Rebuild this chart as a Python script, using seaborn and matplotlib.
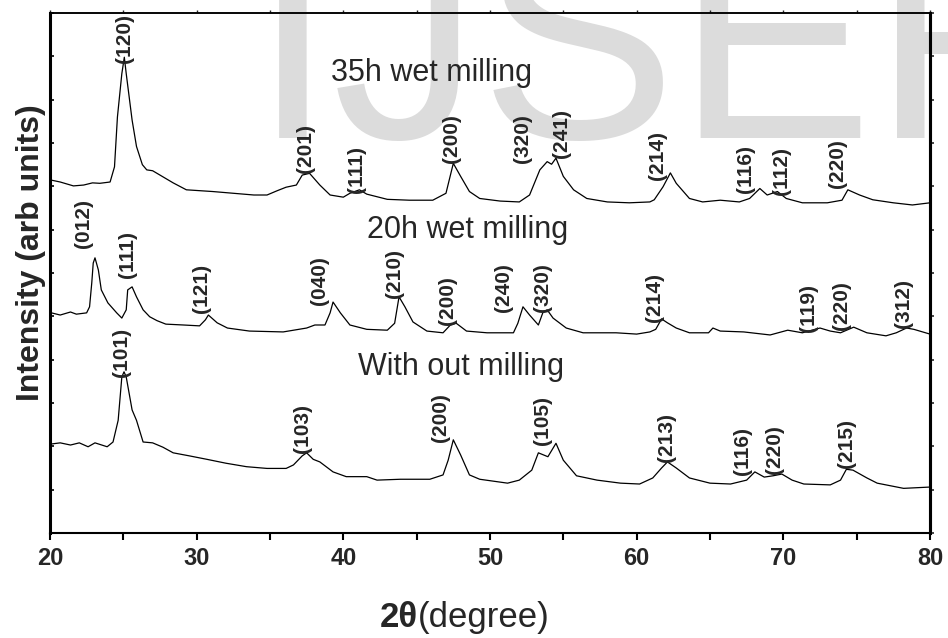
import pandas as pd
import seaborn as sns
import matplotlib.pyplot as plt

# XRD patterns, intensity in arbitrary units (curves stacked by offset)
top_x = [20.0, 20.7, 21.6, 22.3, 22.9, 23.4, 24.1, 24.4, 24.6, 24.9,
         25.07, 25.2, 25.6, 25.9, 26.3, 26.6, 27.0, 27.7, 28.4, 29.3,
         30.2, 31.1, 32.5, 33.9, 34.8, 35.5, 36.1, 36.8, 37.2, 37.7,
         38.4, 39.1, 40.0, 40.45, 41.1, 41.6, 43.0, 44.5, 46.1, 47.0,
         47.5, 48.0, 48.6, 49.3, 50.7, 52.0, 52.7, 53.4, 53.9, 54.2,
         54.5, 55.0, 55.7, 56.6, 58.0, 59.5, 60.9, 61.2, 61.8, 62.3,
         62.7, 63.6, 64.5, 65.7, 67.0, 67.7, 68.4, 68.9, 69.6, 70.2,
         71.3, 73.0, 74.0, 74.4, 75.2, 76.1, 77.5, 78.8, 80.0]
top_y = [8.15, 8.10, 8.01, 8.03, 8.08, 8.07, 8.10, 8.45, 9.6, 10.6,
         10.98, 10.6, 9.53, 8.92, 8.5, 8.38, 8.36, 8.22, 8.08, 7.92,
         7.90, 7.88, 7.84, 7.80, 7.80, 7.90, 7.98, 8.03, 8.26, 8.30,
         8.03, 7.80, 7.75, 7.84, 7.92, 7.82, 7.70, 7.68, 7.68, 7.84,
         8.53, 8.23, 7.88, 7.72, 7.66, 7.64, 7.80, 8.38, 8.57, 8.51,
         8.65, 8.23, 7.92, 7.72, 7.64, 7.62, 7.64, 7.69, 7.99, 8.31,
         8.07, 7.72, 7.64, 7.68, 7.64, 7.72, 7.95, 7.80, 7.88, 7.72,
         7.62, 7.62, 7.68, 7.92, 7.80, 7.69, 7.62, 7.57, 7.62]

mid_x = [20.1, 20.7, 21.4, 21.8, 22.5, 22.7, 22.85, 22.95, 23.07, 23.3,
         23.5, 23.95, 24.55, 24.9, 25.2, 25.3, 25.6, 25.9, 26.35, 26.8,
         27.3, 27.9, 29.1, 30.2, 30.6, 30.8, 31.4, 32.1, 33.6, 35.9,
         37.5, 38.06, 38.75, 39.1, 39.3, 39.8, 40.45, 41.6, 43.0, 43.5,
         43.8, 44.2, 44.75, 45.7, 46.8, 47.3, 47.7, 48.4, 49.8, 51.6,
         51.9, 52.25, 52.7, 53.3, 53.6, 53.9, 54.3, 55.2, 56.35, 58.6,
         60.0, 60.9, 61.3, 61.7, 62.1, 62.7, 63.6, 64.9, 65.2, 65.7,
         67.3, 69.1, 70.3, 71.3, 72.5, 73.2, 73.9, 74.8, 75.7, 77.0,
         77.7, 78.4, 78.9, 80.0]
mid_y = [5.08, 5.03, 5.10, 5.05, 5.08, 5.22, 5.77, 6.23, 6.35, 6.07,
         5.61, 5.31, 5.08, 4.96, 5.15, 5.61, 5.68, 5.45, 5.15, 4.99,
         4.90, 4.82, 4.80, 4.78, 4.92, 5.03, 4.85, 4.73, 4.66, 4.64,
         4.73, 4.80, 4.80, 5.08, 5.33, 5.08, 4.80, 4.70, 4.68, 4.84,
         5.45, 5.22, 4.87, 4.66, 4.62, 4.80, 4.84, 4.66, 4.62, 4.62,
         4.84, 5.22, 5.03, 4.80, 5.08, 5.15, 4.96, 4.73, 4.62, 4.62,
         4.59, 4.64, 4.70, 4.94, 4.85, 4.73, 4.62, 4.62, 4.73, 4.66,
         4.64, 4.57, 4.68, 4.62, 4.73, 4.66, 4.62, 4.75, 4.62, 4.55,
         4.62, 4.73, 4.70, 4.59]

low_x = [20.0, 20.7, 21.4, 22.0, 22.6, 23.07, 23.9, 24.3, 24.65, 24.9,
         25.05, 25.2, 25.6, 25.9, 26.35, 27.0, 27.7, 28.4, 29.5, 30.7,
         32.0, 33.4, 34.8, 36.1, 36.6, 37.2, 37.5, 37.95, 38.4, 39.3,
         40.2, 41.6, 42.3, 43.9, 45.9, 46.8, 47.15, 47.5, 48.0, 48.6,
         49.3, 51.2, 52.0, 52.85, 53.3, 53.95, 54.5, 55.0, 55.9, 57.3,
         58.9, 60.2, 61.1, 61.7, 62.1, 62.7, 63.6, 65.0, 66.4, 67.5,
         68.06, 68.7, 69.3, 69.9, 70.6, 71.4, 73.2, 73.9, 74.3, 74.75,
         75.7, 76.4, 78.2, 80.0]
low_y = [2.05, 2.08, 2.03, 2.08, 1.99, 2.08, 1.99, 2.10, 2.6, 3.6,
         3.72, 3.6, 2.84, 2.6, 2.10, 2.08, 1.98, 1.85, 1.78, 1.70,
         1.61, 1.53, 1.49, 1.49, 1.57, 1.78, 1.85, 1.70, 1.64, 1.41,
         1.30, 1.30, 1.22, 1.24, 1.24, 1.34, 1.68, 2.15, 1.80, 1.34,
         1.24, 1.15, 1.22, 1.45, 1.85, 1.76, 2.07, 1.68, 1.32, 1.22,
         1.15, 1.13, 1.27, 1.50, 1.64, 1.50, 1.27, 1.15, 1.13, 1.22,
         1.41, 1.29, 1.32, 1.36, 1.22, 1.13, 1.11, 1.22, 1.47, 1.45,
         1.27, 1.15, 1.03, 1.06]

# peak indexing (hkl), 2theta of label and height of label base
top_hkl = ["(120)", "(201)", "(111)", "(200)", "(320)", "(241)", "(214)", "(116)", "(112)", "(220)"]
top_pos = [25.05, 37.4, 40.9, 47.4, 52.25, 54.9, 61.4, 67.4, 69.9, 73.7]
top_h = [10.85, 8.31, 7.85, 8.54, 8.54, 8.65, 8.15, 7.85, 7.80, 7.96]

mid_hkl = ["(012)", "(111)", "(121)", "(040)", "(210)", "(200)", "(240)", "(320)", "(214)", "(119)", "(220)", "(312)"]
mid_pos = [22.3, 25.3, 30.35, 38.4, 43.5, 47.1, 50.9, 53.6, 61.25, 71.7, 74.0, 78.2]
mid_h = [6.58, 5.88, 5.08, 5.26, 5.42, 4.80, 5.10, 5.10, 4.87, 4.64, 4.68, 4.73]

low_hkl = ["(101)", "(103)", "(200)", "(105)", "(213)", "(116)", "(220)", "(215)"]
low_pos = [24.9, 37.25, 46.6, 53.6, 62.05, 67.25, 69.4, 74.3]
low_h = [3.60, 1.85, 2.10, 2.03, 1.64, 1.34, 1.36, 1.50]

samples = ["35h wet milling", "20h wet milling", "With out milling"]
sample_x = [46.0, 48.46, 48.0]
sample_y = [10.62, 6.99, 3.83]

xtick_vals = [20, 30, 40, 50, 60, 70, 80]
xtick_labels = ["20", "30", "40", "50", "60", "70", "80"]

sns.set_style("ticks")
plt.rcParams["font.family"] = ["Liberation Sans", "DejaVu Sans"]

fig = plt.figure(figsize=(9.48, 6.38), dpi=100)
# journal watermark behind the plot
fig.text(0.266, 0.784, "IJSER", fontsize=212, color="#dcdcdc", zorder=-1,
         ha="left", va="baseline")

ax = fig.add_axes([0.0527, 0.1646, 0.9283, 0.815])
ax.set_facecolor("none")

curves = pd.concat([
    pd.DataFrame({"theta": top_x, "I": top_y, "s": "35h"}),
    pd.DataFrame({"theta": mid_x, "I": mid_y, "s": "20h"}),
    pd.DataFrame({"theta": low_x, "I": low_y, "s": "0h"}),
])
for name, d in curves.groupby("s", sort=False):
    sns.lineplot(data=d, x="theta", y="I", ax=ax, color="black", linewidth=0.9,
                 estimator=None, sort=False)

for hkl, pos, h in [(top_hkl, top_pos, top_h), (mid_hkl, mid_pos, mid_h), (low_hkl, low_pos, low_h)]:
    for lbl, x, y in zip(hkl, pos, h):
        ax.text(x, y, lbl, rotation=90, ha="center", va="bottom",
                fontsize=15, fontweight="bold")

for s, x, y in zip(samples, sample_x, sample_y):
    ax.text(x, y, s, ha="center", va="center", fontsize=22)

ax.set_xlim(20, 80)
ax.set_ylim(0, 12)
ax.set_xticks(xtick_vals)
ax.set_xticklabels(xtick_labels, fontweight="bold")
ax.set_xticks([25, 35, 45, 55, 65, 75], minor=True)
ax.set_yticks(range(0, 13))
ax.set_yticklabels([])
ax.tick_params(axis="x", which="both", direction="out", length=5, width=1.5,
               labelsize=17, pad=5, color="black")
ax.tick_params(axis="y", direction="in", length=3, width=1.2, color="black")
ax.set_xlabel("")
ax.set_ylabel("")

for side, lw in [("left", 2.2), ("right", 2.2), ("top", 1.2), ("bottom", 1.5)]:
    ax.spines[side].set_linewidth(lw)
    ax.spines[side].set_color("black")

sec_x = ax.secondary_xaxis("top")
sec_x.set_xticks(range(20, 81, 5))
sec_x.tick_params(length=2, width=1, labeltop=False)
sec_x.spines["top"].set_linewidth(1.2)
sec_y = ax.secondary_yaxis("right")
sec_y.set_yticks(range(0, 13))
sec_y.tick_params(length=3, width=1.2, labelright=False)
sec_y.spines["right"].set_linewidth(2.2)

ax.text(-0.0216, 0.54, "Intensity (arb units)", transform=ax.transAxes,
        rotation=90, ha="center", va="center", fontsize=23, fontweight="bold")
ax.text(0.418, -0.163, "2\u03b8", transform=ax.transAxes, ha="right",
        va="center", fontsize=25, fontweight="bold")
ax.text(0.418, -0.163, "(degree)", transform=ax.transAxes, ha="left",
        va="center", fontsize=25)

fig.savefig("out.png", dpi=100)
